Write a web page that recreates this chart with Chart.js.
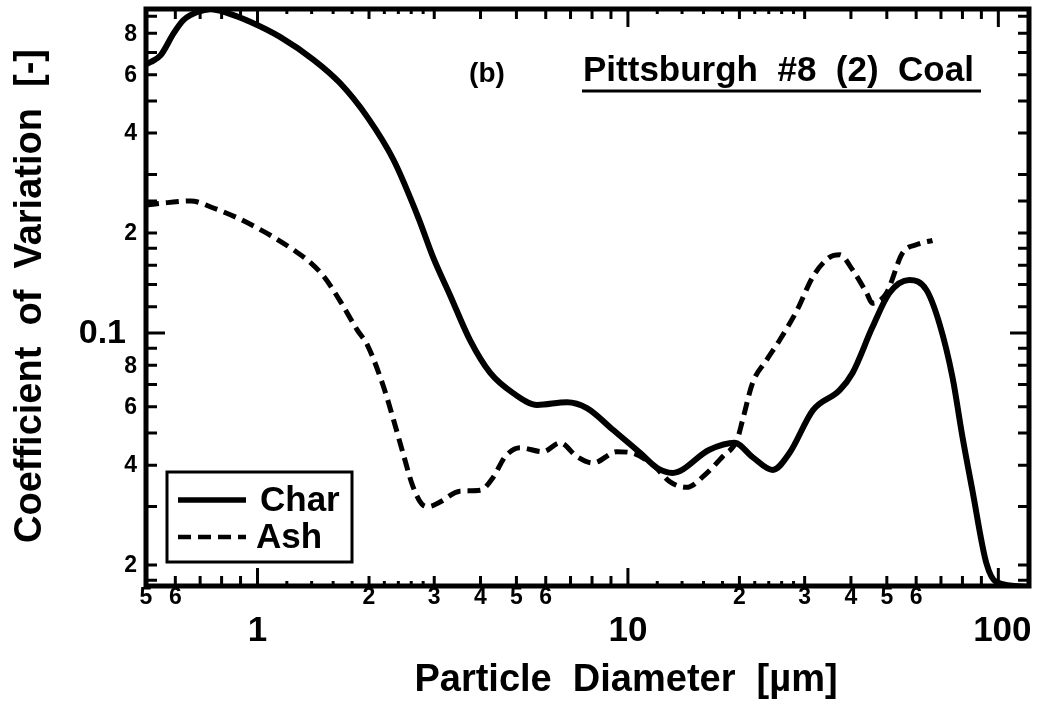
<!DOCTYPE html>
<html>
<head>
<meta charset="utf-8">
<script src="https://cdn.jsdelivr.net/npm/chart.js@4.4.1/dist/chart.umd.min.js"></script>
<style>
  html, body { margin: 0; padding: 0; background: #fff; }
  #wrap { width: 1044px; height: 704px; }
</style>
</head>
<body>
<div id="wrap"><canvas id="c" width="1044" height="704"></canvas></div>
<script>
// Coefficient of variation versus particle diameter, Pittsburgh #8 (2) coal
const charDiameter = [0.5, 0.515, 0.548, 0.594, 0.632, 0.689, 0.747, 0.83, 0.958, 1.15, 1.42, 1.67, 1.98, 2.33, 2.72, 2.98, 3.31, 3.75, 4.25, 4.90, 5.69, 6.85, 7.75, 9.11, 10.8, 12.0, 13.2, 16.6, 19.4, 21.7, 24.6, 27.3, 31.6, 37.3, 40.4, 45.7, 50.8, 57.5, 63.9, 69.3, 75.2, 80.0, 85.1, 92.8, 98.8, 121];
const charCov = [0.645, 0.655, 0.687, 0.80, 0.877, 0.927, 0.945, 0.92, 0.865, 0.78, 0.664, 0.566, 0.447, 0.332, 0.222, 0.169, 0.130, 0.095, 0.0758, 0.0659, 0.0607, 0.0619, 0.0594, 0.0511, 0.0435, 0.0392, 0.0379, 0.0445, 0.0467, 0.0423, 0.0387, 0.0435, 0.0586, 0.0673, 0.0758, 0.104, 0.132, 0.1445, 0.135, 0.107, 0.0736, 0.0487, 0.0336, 0.0203, 0.0178, 0.0172];

const ashDiameter = [0.5, 0.572, 0.66, 0.76, 0.884, 1.0, 1.10, 1.25, 1.39, 1.51, 1.67, 1.86, 1.98, 2.19, 2.33, 2.47, 2.63, 2.80, 2.90, 3.11, 3.52, 3.99, 4.33, 4.66, 5.11, 5.90, 6.56, 7.29, 8.05, 9.34, 10.3, 11.7, 13.0, 14.4, 16.3, 18.0, 19.7, 20.4, 21.7, 23.7, 25.7, 28.6, 31.6, 35.0, 37.3, 40.4, 44.1, 45.7, 49.9, 55.1, 60.5, 66.4];
const ashCov = [0.243, 0.247, 0.250, 0.238, 0.222, 0.207, 0.195, 0.178, 0.163, 0.148, 0.125, 0.102, 0.092, 0.0688, 0.0547, 0.0435, 0.0344, 0.0303, 0.0300, 0.031, 0.0334, 0.0336, 0.0368, 0.0424, 0.0451, 0.0439, 0.0467, 0.0424, 0.0406, 0.0439, 0.0435, 0.040, 0.0356, 0.0343, 0.0378, 0.0424, 0.0476, 0.0547, 0.0707, 0.083, 0.0953, 0.117, 0.148, 0.169, 0.172, 0.155, 0.132, 0.123, 0.132, 0.174, 0.185, 0.19];

// axis ranges
const xRange = [0.5, 121];
const yRange = [0.0173, 0.946];

// x axis ticks (log), grouped by mark length
const xMajorTicks = [1, 10, 100];
const xMajorLabels = ['1', '10', '100'];
const xMidTicks = [0.6, 0.7, 0.8, 0.9, 2, 3, 4, 5, 6, 7, 8, 9, 20, 30, 40, 50, 60, 70, 80, 90];
const xSmallTicks = [1.2, 1.4, 1.6, 1.8, 2.2, 2.4, 2.6, 2.8, 12, 14, 16, 18, 22, 24, 26, 28];
const xMinorLabelValues = [0.5, 0.6, 2, 3, 4, 5, 6, 20, 30, 40, 50, 60];
const xMinorLabels = ['5', '6', '2', '3', '4', '5', '6', '2', '3', '4', '5', '6'];

// y axis ticks (log)
const yMajorTicks = [0.1];
const yMajorLabels = ['0.1'];
const yMinorTicks = [0.9, 0.8, 0.7, 0.6, 0.5, 0.4, 0.3, 0.25, 0.2, 0.18, 0.16, 0.14, 0.12, 0.09, 0.08, 0.07, 0.06, 0.05, 0.04, 0.03, 0.02, 0.018];
const yMinorLabelValues = [0.8, 0.6, 0.4, 0.2, 0.08, 0.06, 0.04, 0.02];
const yMinorLabels = ['8', '6', '4', '2', '8', '6', '4', '2'];

const xTitle = 'Particle  Diameter  [\u00b5m]';
const yTitle = 'Coefficient  of  Variation  [-]';
const panelLabel = '(b)';
const coalLabel = 'Pittsburgh  #8  (2)  Coal';
const seriesNames = ['Char', 'Ash'];

const FONT = '"Liberation Sans", Arial, Helvetica, sans-serif';
const font = (px) => 'bold ' + px + 'px ' + FONT;

const toPoints = (xs, ys) => xs.map((x, i) => ({ x: x, y: ys[i] }));

const frameAndLabels = {
  id: 'frameAndLabels',
  afterDatasetsDraw(chart) {
    const ctx = chart.ctx;
    const a = chart.chartArea;
    const xs = chart.scales.x, ys = chart.scales.y;
    ctx.save();
    ctx.strokeStyle = '#000';
    ctx.fillStyle = '#000';
    ctx.lineCap = 'butt';

    // inward tick marks on all four sides
    ctx.lineWidth = 3;
    const xTick = (v, len) => {
      const p = xs.getPixelForValue(v);
      ctx.beginPath();
      ctx.moveTo(p, a.bottom); ctx.lineTo(p, a.bottom - len);
      ctx.moveTo(p, a.top); ctx.lineTo(p, a.top + len);
      ctx.stroke();
    };
    const yTick = (v, len) => {
      const p = ys.getPixelForValue(v);
      ctx.beginPath();
      ctx.moveTo(a.left, p); ctx.lineTo(a.left + len, p);
      ctx.moveTo(a.right, p); ctx.lineTo(a.right - len, p);
      ctx.stroke();
    };
    xMajorTicks.forEach(v => xTick(v, 18));
    xMidTicks.forEach(v => xTick(v, 10));
    xSmallTicks.forEach(v => xTick(v, 5));
    yMajorTicks.forEach(v => yTick(v, 19));
    yMinorTicks.forEach(v => yTick(v, 11));

    // frame
    ctx.lineWidth = 5;
    ctx.strokeRect(a.left, a.top, a.right - a.left, a.bottom - a.top);

    // x tick labels: small digits on the first row, decades below
    ctx.textAlign = 'center';
    ctx.textBaseline = 'middle';
    ctx.font = font(23);
    xMinorLabelValues.forEach((v, i) => ctx.fillText(xMinorLabels[i], xs.getPixelForValue(v), a.bottom + 12));
    ctx.font = font(35);
    xMajorTicks.forEach((v, i) => ctx.fillText(xMajorLabels[i], xs.getPixelForValue(v) + (i === 2 ? 4 : 0), a.bottom + 45));

    // y tick labels
    ctx.textAlign = 'right';
    ctx.font = font(23);
    yMinorLabelValues.forEach((v, i) => ctx.fillText(yMinorLabels[i], a.left - 9, ys.getPixelForValue(v) + 1));
    ctx.font = font(34);
    yMajorTicks.forEach((v, i) => ctx.fillText(yMajorLabels[i], a.left - 20, ys.getPixelForValue(v) + 1));

    // axis titles
    ctx.textAlign = 'center';
    ctx.font = font(38);
    ctx.fillText(xTitle, 626, 681);
    ctx.save();
    ctx.translate(31, 296);
    ctx.rotate(-Math.PI / 2);
    ctx.font = font(38);
    ctx.fillText(yTitle, 0, 0);
    ctx.restore();

    // annotations
    ctx.textAlign = 'center';
    ctx.textBaseline = 'alphabetic';
    ctx.font = font(28);
    ctx.fillText(panelLabel, 487, 82);
    ctx.textAlign = 'left';
    ctx.font = font(35);
    ctx.fillText(coalLabel, 583, 81);
    ctx.lineWidth = 3;
    ctx.beginPath();
    ctx.moveTo(582, 91); ctx.lineTo(981, 91);
    ctx.stroke();

    // legend box
    const box = { l: 167, t: 472, r: 352, b: 562 };
    ctx.fillStyle = '#fff';
    ctx.fillRect(box.l, box.t, box.r - box.l, box.b - box.t);
    ctx.fillStyle = '#000';
    ctx.lineWidth = 3;
    ctx.strokeRect(box.l, box.t, box.r - box.l, box.b - box.t);
    const rows = [500, 537];
    chart.data.datasets.forEach((ds, i) => {
      const y = rows[i];
      ctx.save();
      ctx.lineWidth = ds.borderWidth - 0.5;
      ctx.setLineDash(ds.borderDash || []);
      ctx.beginPath();
      ctx.moveTo(178, y); ctx.lineTo(246, y);
      ctx.stroke();
      ctx.restore();
      ctx.font = font(35);
      ctx.textAlign = 'left';
      ctx.textBaseline = 'middle';
      ctx.fillText(ds.label, i === 0 ? 260 : 256, y + 1);
    });
    ctx.restore();
  }
};

new Chart(document.getElementById('c'), {
  type: 'line',
  data: {
    datasets: [
      {
        label: seriesNames[0],
        data: toPoints(charDiameter, charCov),
        borderColor: '#000',
        borderWidth: 6,
        pointRadius: 0,
        cubicInterpolationMode: 'monotone',
        fill: false
      },
      {
        label: seriesNames[1],
        data: toPoints(ashDiameter, ashCov),
        borderColor: '#000',
        borderWidth: 5,
        borderDash: [13, 7],
        pointRadius: 0,
        cubicInterpolationMode: 'monotone',
        fill: false
      }
    ]
  },
  options: {
    responsive: false,
    animation: false,
    devicePixelRatio: 1,
    layout: { padding: { left: 146, right: 15, top: 9, bottom: 118 } },
    plugins: { legend: { display: false }, tooltip: { enabled: false } },
    scales: {
      x: { type: 'logarithmic', display: false, min: xRange[0], max: xRange[1] },
      y: { type: 'logarithmic', display: false, min: yRange[0], max: yRange[1] }
    }
  },
  plugins: [frameAndLabels]
});
</script>
</body>
</html>
